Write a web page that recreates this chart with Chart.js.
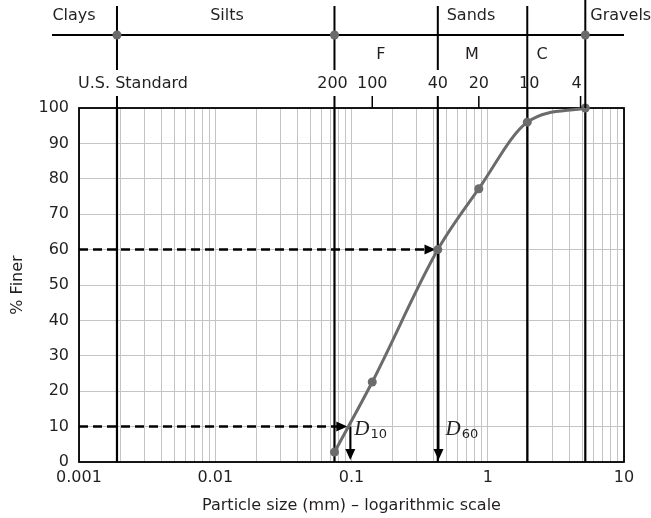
<!DOCTYPE html>
<html>
<head>
<meta charset="utf-8">
<script src="https://cdn.jsdelivr.net/npm/chart.js@4.4.0/dist/chart.umd.min.js"></script>
<style>
  html, body { margin: 0; padding: 0; background: #ffffff; }
  #wrap { width: 651px; height: 518px; }
</style>
</head>
<body>
<div id="wrap"><canvas id="gradasiChart" width="651" height="518"></canvas></div>
<script>
// Data kurva gradasi
const ukuranButir = [0.075, 0.142, 0.43, 0.86, 1.95, 5.2]; // mm
const persenLolos = [2.8, 22.6, 60, 77.2, 96, 100]; // % finer

// Batas jenis tanah (mm)
const batasTanah = [0.0019, 0.075, 0.43, 1.95, 5.2];
const namaTanah = ["Clays", "Silts", "Sands", "Gravels"];
const subPasir = ["F", "M", "C"];

// Nomor saringan U.S. Standard dan ukurannya
const nomorSaringan = ["200", "100", "40", "20", "10", "4"];
const ukuranSaringan = [0.075, 0.142, 0.43, 0.86, 1.95, 4.8];

// D10 dan D60
const nilaiD10 = 0.098;
const nilaiD60 = 0.435;

// Label sumbu
const dekadeX = [0.001, 0.01, 0.1, 1, 10];
const labelX = ["0.001", "0.01", "0.1", "1", "10"];
const tickY = [0, 10, 20, 30, 40, 50, 60, 70, 80, 90, 100];

// Garis grid log: 1..9 di setiap dekade
const gridX = [];
for (let d = -3; d <= 0; d++) {
  for (let k = 1; k <= 9; k++) {
    gridX.push(Number((k * Math.pow(10, d)).toPrecision(6)));
  }
}
gridX.push(10);

const warnaTeks = "#231f20";
const fontSans = '"DejaVu Sans", sans-serif';

function panah(ctx, x, y, arah) {
  // arah: "kanan" atau "bawah", (x, y) = ujung panah
  ctx.beginPath();
  if (arah === "kanan") {
    ctx.moveTo(x, y);
    ctx.lineTo(x - 11, y - 5);
    ctx.lineTo(x - 11, y + 5);
  } else {
    ctx.moveTo(x, y);
    ctx.lineTo(x - 5, y - 11);
    ctx.lineTo(x + 5, y - 11);
  }
  ctx.closePath();
  ctx.fill();
}

function labelD(ctx, x, y, sub) {
  ctx.textAlign = "left";
  ctx.textBaseline = "alphabetic";
  ctx.font = 'italic 21px "Liberation Serif", serif';
  ctx.fillText("D", x, y);
  const w = ctx.measureText("D").width;
  ctx.font = "13px " + fontSans;
  ctx.fillText(sub, x + w + 1, y + 3);
}

// Plugin untuk garis batas, panah dan bagian atas grafik
const anotasiPlugin = {
  id: "anotasi",
  beforeDatasetsDraw(chart) {
    const { ctx, chartArea: a, scales } = chart;
    const xs = scales.x;
    const ys = scales.y;
    ctx.save();

    // bingkai plot
    ctx.strokeStyle = "#000";
    ctx.lineWidth = 1.8;
    ctx.strokeRect(a.left, a.top, a.right - a.left, a.bottom - a.top);

    // garis batas tebal di dalam plot
    ctx.lineWidth = 2.2;
    batasTanah.forEach((v) => {
      const x = xs.getPixelForValue(v);
      ctx.beginPath();
      ctx.moveTo(x, a.top);
      ctx.lineTo(x, a.bottom);
      ctx.stroke();
    });

    // panah putus-putus D10 dan D60
    ctx.fillStyle = "#000";
    const x10 = xs.getPixelForValue(nilaiD10);
    const x60 = xs.getPixelForValue(nilaiD60);
    const y10 = ys.getPixelForValue(10);
    const y60 = ys.getPixelForValue(60);

    ctx.lineWidth = 2.5;
    ctx.setLineDash([9, 5]);
    ctx.beginPath();
    ctx.moveTo(a.left, y60);
    ctx.lineTo(x60 - 12, y60);
    ctx.moveTo(a.left, y10);
    ctx.lineTo(x10 - 12, y10);
    ctx.stroke();
    ctx.setLineDash([]);
    panah(ctx, x60 - 3, y60, "kanan");
    panah(ctx, x10 - 3, y10, "kanan");

    ctx.lineWidth = 2;
    ctx.beginPath();
    ctx.moveTo(x10, y10);
    ctx.lineTo(x10, a.bottom - 10);
    ctx.moveTo(x60, y60);
    ctx.lineTo(x60, a.bottom - 10);
    ctx.stroke();
    panah(ctx, x10, a.bottom - 2, "bawah");
    panah(ctx, x60, a.bottom - 2, "bawah");

    ctx.fillStyle = warnaTeks;
    labelD(ctx, x10 + 4, 435, "10");
    labelD(ctx, x60 + 7, 435, "60");
    ctx.restore();
  },
  afterDraw(chart) {
    const { ctx, chartArea: a, scales } = chart;
    const xs = scales.x;
    const px = (v) => xs.getPixelForValue(v);
    ctx.save();
    ctx.strokeStyle = "#000";

    // garis horizontal klasifikasi
    ctx.lineWidth = 2;
    ctx.beginPath();
    ctx.moveTo(52, 35);
    ctx.lineTo(a.right, 35);
    ctx.stroke();

    // garis vertikal batas di atas plot
    batasTanah.forEach((v, i) => {
      const x = px(v);
      ctx.beginPath();
      if (i >= 3) {
        ctx.moveTo(x, i === 4 ? 0 : 6);
        ctx.lineTo(x, a.top);
      } else {
        ctx.moveTo(x, 6);
        ctx.lineTo(x, 70);
        ctx.moveTo(x, 96);
        ctx.lineTo(x, a.top);
      }
      ctx.stroke();
    });

    // tanda saringan kecil
    ctx.lineWidth = 1.5;
    [1, 3, 5].forEach((i) => {
      const x = px(ukuranSaringan[i]);
      ctx.beginPath();
      ctx.moveTo(x, 96);
      ctx.lineTo(x, a.top);
      ctx.stroke();
    });

    // titik abu-abu di garis klasifikasi
    ctx.fillStyle = "#6b6b6b";
    [batasTanah[0], batasTanah[1], batasTanah[4]].forEach((v) => {
      ctx.beginPath();
      ctx.arc(px(v), 35, 4.5, 0, Math.PI * 2);
      ctx.fill();
    });

    // teks
    ctx.fillStyle = warnaTeks;
    ctx.font = "16px " + fontSans;
    ctx.textBaseline = "middle";
    ctx.textAlign = "center";
    const posNama = [0.00092, 0.0122, 0.753];
    posNama.forEach((v, i) => ctx.fillText(namaTanah[i], px(v), 16));
    ctx.textAlign = "left";
    ctx.fillText(namaTanah[3], px(batasTanah[4]) + 5, 16);

    ctx.textAlign = "center";
    const posSub = [0.164, 0.766, 2.5];
    posSub.forEach((v, i) => ctx.fillText(subPasir[i], px(v), 55));

    ctx.fillText("U.S. Standard", 133, 84);
    const geser = [-2, 0, 0, 0, 2, -4];
    nomorSaringan.forEach((n, i) => {
      ctx.fillText(n, px(ukuranSaringan[i]) + geser[i], 84);
    });
    ctx.restore();
  },
};

function buatChart() {
  const ctx = document.getElementById("gradasiChart").getContext("2d");
  new Chart(ctx, {
    type: "line",
    data: {
      datasets: [
        {
          data: ukuranButir.map((x, i) => ({ x: x, y: persenLolos[i] })),
          borderColor: "#6b6b6b",
          backgroundColor: "#6b6b6b",
          borderWidth: 3,
          pointRadius: 4.5,
          pointHoverRadius: 4.5,
          pointBorderWidth: 0,
          pointBackgroundColor: "#6b6b6b",
          cubicInterpolationMode: "monotone",
          fill: false,
          clip: false,
        },
      ],
    },
    options: {
      responsive: false,
      animation: false,
      devicePixelRatio: 1,
      layout: { padding: { top: 108, right: 27, left: 0, bottom: 0 } },
      plugins: {
        legend: { display: false },
        tooltip: { enabled: false },
      },
      scales: {
        x: {
          type: "logarithmic",
          min: 0.001,
          max: 10,
          afterBuildTicks: (scale) => {
            scale.ticks = gridX.map((v) => ({ value: v }));
          },
          afterFit: (scale) => {
            scale.height = 56;
          },
          grid: { color: "#c4c4c4", lineWidth: 1, drawTicks: false },
          border: { display: false },
          ticks: {
            autoSkip: false,
            maxRotation: 0,
            padding: 6,
            color: warnaTeks,
            font: { family: fontSans, size: 16 },
            callback: function (value) {
              const i = dekadeX.indexOf(value);
              return i >= 0 ? labelX[i] : "";
            },
          },
          title: {
            display: true,
            text: "Particle size (mm) – logarithmic scale",
            color: warnaTeks,
            font: { family: fontSans, size: 16 },
            padding: { top: 0, bottom: 3 },
          },
        },
        y: {
          min: 0,
          max: 100,
          afterBuildTicks: (scale) => {
            scale.ticks = tickY.map((v) => ({ value: v }));
          },
          afterFit: (scale) => {
            scale.width = 79;
          },
          grid: { color: "#c4c4c4", lineWidth: 1, drawTicks: false },
          border: { display: false },
          ticks: {
            padding: 10,
            color: warnaTeks,
            font: { family: fontSans, size: 16 },
          },
          title: {
            display: true,
            text: "% Finer",
            color: warnaTeks,
            font: { family: fontSans, size: 16 },
            padding: { top: 8, bottom: 0 },
          },
        },
      },
    },
    plugins: [anotasiPlugin],
  });
}

document.addEventListener("DOMContentLoaded", function () {
  buatChart();
});
</script>
</body>
</html>
